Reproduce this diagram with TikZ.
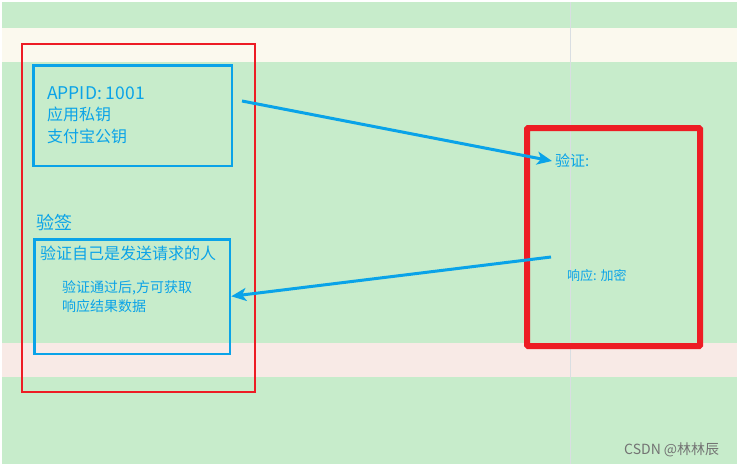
\documentclass[tikz,border=0pt]{standalone}
\usepackage{fontspec}
\setmainfont{Noto Sans CJK SC}
\usetikzlibrary{arrows.meta}
\definecolor{bggreen}{HTML}{C7ECCB}
\definecolor{bandcream}{HTML}{FBF9EE}
\definecolor{bandpink}{HTML}{F8EAE6}
\definecolor{gridgray}{HTML}{D9DEE2}
\definecolor{boxred}{HTML}{ED1C24}
\definecolor{lineblue}{HTML}{0AA3E8}

\tikzset{
  redframe/.style={draw=boxred, line width=2.2pt, inner sep=0pt, outer sep=0pt, anchor=north west},
  blueframe/.style={draw=lineblue, line width=2.5pt, inner sep=0pt, outer sep=0pt, anchor=north west},
  txt/.style={text=lineblue, inner sep=0pt, anchor=west, align=left},
  flow/.style={draw=lineblue, line width=3pt, -{Stealth[length=15pt,width=13pt,inset=4pt]}}
}

\begin{document}
\begin{tikzpicture}[x=1pt, y=-1pt]
  \useasboundingbox (0,0) rectangle (739,466);
  \fill[white] (0,0) rectangle (739,466);
  \fill[bggreen] (2,2) rectangle (737,464);
  \fill[bandcream] (2,28) rectangle (737,62);
  \fill[bandpink] (2,343) rectangle (737,377);
  \draw[gridgray, line width=1pt] (570,2) -- (570,464);

  \node[redframe, minimum width=233pt, minimum height=348pt] (client) at (22,44) {};
  \node[blueframe, minimum width=198.5pt, minimum height=100.5pt] (keys) at (33.25,65.25) {};
  \node[blueframe, minimum width=195.5pt, minimum height=114.5pt] (sign) at (34.25,239.25) {};
  \node[redframe, line width=6pt, rounded corners=1pt, minimum width=173pt, minimum height=218pt] (server) at (527,128) {};

  \node[txt, font=\fontsize{16pt}{21.5pt}\selectfont] (keytext) at (47,115) {{\fontsize{17.5pt}{21.5pt}\selectfont APPID: 1001}\\应用私钥\\支付宝公钥};
  \node[txt, font=\fontsize{18pt}{22pt}\selectfont] (signtitle) at (36,223) {验签};
  \node[txt, font=\fontsize{16pt}{20pt}\selectfont] (signline) at (40,253) {验证自己是发送请求的人};
  \node[txt, font=\fontsize{14pt}{19pt}\selectfont] (signnote) at (62,296.5) {验证通过后,方可获取\\响应结果数据};
  \node[txt, inner sep=3pt, font=\fontsize{15pt}{18pt}\selectfont] (verify) at (552,161) {验证:};
  \node[txt, font=\fontsize{13pt}{16pt}\selectfont] (reply) at (567,276) {响应: 加密};
  \node[txt, text=black!55, font=\fontsize{14pt}{16pt}\selectfont] (mark) at (624,450) {CSDN @林林辰};

  \coordinate (reqstart) at (242,101);
  \coordinate (respstart) at (551,257);
  \path[flow] (reqstart) -- (verify.west);
  \path[flow, shorten >=1.5pt] (respstart) -- (sign.east);
\end{tikzpicture}
\end{document}
